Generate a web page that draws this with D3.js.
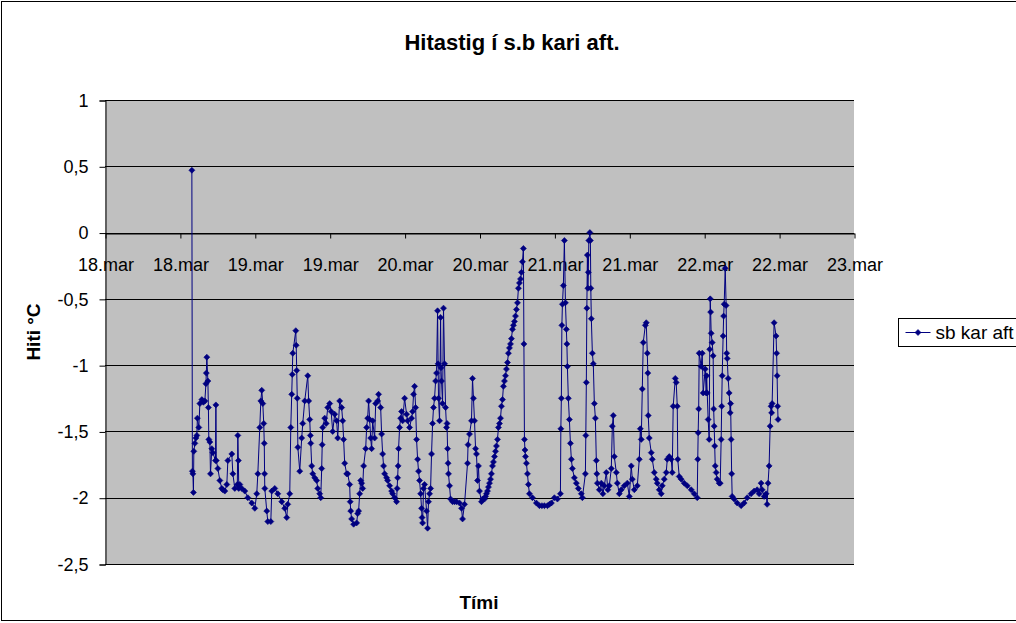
<!DOCTYPE html>
<html>
<head>
<meta charset="utf-8">
<script src="https://cdn.jsdelivr.net/npm/d3@7"></script>
<style>
  body { margin: 0; background: #ffffff; }
  svg { font-family: Arial, "Liberation Sans", sans-serif; }
</style>
</head>
<body>
<div id="vis1"></div>
<script>
// text of the chart
const TITLE = "Hitastig í s.b kari aft.";
const X_TITLE = "Tími";
const Y_TITLE = "Hiti °C";
const SERIES_NAME = "sb kar aft";

// y axis ticks (comma decimal like the original)
const Y_TICKS = [1, 0.5, 0, -0.5, -1, -1.5, -2, -2.5];

// hours after 18.mar 00:00 for each reading
const HOURS = [
  13.92, 14.00, 14.08, 14.16, 14.24, 14.40, 14.56, 14.72, 14.80, 15.04,
  15.20, 15.52, 15.76, 16.00, 16.16, 16.24, 16.32, 16.48, 16.56, 16.64,
  16.80, 16.90, 17.12, 17.28, 17.70, 17.76, 17.84, 18.08, 18.40, 18.72,
  18.88, 19.20, 19.52, 19.68, 20.32, 20.48, 20.80, 21.20, 21.28, 21.36,
  21.44, 21.60, 21.92, 22.40, 22.88, 23.52, 24.00, 24.32, 24.48, 24.80,
  24.96, 25.12, 25.28, 25.44, 25.52, 25.56, 25.60, 25.92, 26.08, 26.56,
  26.72, 27.20, 27.68, 28.32, 28.80, 29.12, 29.28, 29.60, 29.76, 29.92,
  30.00, 30.08, 30.56, 30.64, 30.72, 30.80, 30.90, 31.20, 31.52, 31.68,
  32.00, 32.48, 32.64, 32.80, 32.90, 32.96, 33.12, 33.28, 33.60, 33.92,
  34.08, 34.40, 34.56, 34.72, 34.80, 34.88, 35.20, 35.44, 35.68, 36.00,
  36.24, 36.48, 36.80, 37.12, 37.28, 37.60, 37.92, 38.08, 38.24, 38.40,
  38.72, 38.88, 39.20, 39.28, 39.36, 39.52, 39.84, 40.32, 40.48, 40.64,
  40.80, 40.96, 41.12, 41.28, 41.44, 41.76, 41.92, 42.08, 42.24, 42.40,
  42.56, 42.72, 42.88, 43.20, 43.36, 43.68, 43.84, 44.16, 44.32, 44.48,
  44.64, 44.80, 45.12, 45.28, 45.60, 45.92, 46.08, 46.40, 46.72, 46.80,
  46.88, 46.96, 47.04, 47.20, 47.36, 47.52, 47.68, 48.00, 48.32, 48.48,
  48.80, 49.12, 49.28, 49.44, 49.60, 49.76, 49.92, 50.08, 50.24, 50.40,
  50.56, 50.72, 50.80, 50.88, 51.04, 51.20, 51.52, 51.68, 51.84, 52.00,
  52.16, 52.32, 52.48, 52.64, 52.80, 52.96, 53.12, 53.28, 53.36, 53.44,
  53.60, 53.76, 53.84, 53.92, 54.08, 54.24, 54.40, 54.56, 54.72, 54.80,
  54.88, 54.96, 55.04, 55.20, 55.36, 55.68, 56.00, 56.32, 56.80, 57.12,
  57.28, 57.60, 58.08, 58.16, 58.40, 58.72, 58.88, 59.04, 59.20, 59.36,
  59.52, 59.68, 59.84, 60.00, 60.32, 60.48, 60.80, 60.96, 61.12, 61.28,
  61.44, 61.60, 61.76, 61.92, 62.08, 62.24, 62.40, 62.56, 62.72, 62.88,
  63.04, 63.20, 63.36, 63.52, 63.68, 63.84, 64.00, 64.16, 64.32, 64.48,
  64.64, 64.80, 64.96, 65.12, 65.28, 65.44, 65.60, 65.76, 65.92, 66.08,
  66.24, 66.40, 66.56, 66.72, 66.88, 67.04, 67.12, 67.20, 67.28, 67.36,
  67.52, 67.68, 67.84, 68.00, 68.48, 69.12, 69.60, 70.00, 70.40, 70.88,
  71.20, 71.52, 72.00, 72.48, 72.96, 73.04, 73.12, 73.20, 73.28, 73.44,
  73.60, 73.76, 73.92, 74.00, 74.08, 74.24, 74.40, 74.56, 74.72, 74.88,
  75.20, 75.52, 75.84, 76.32, 76.48, 76.96, 77.04, 77.12, 77.20, 77.28,
  77.36, 77.44, 77.52, 77.68, 77.76, 77.84, 77.92, 78.08, 78.24, 78.40,
  78.56, 78.72, 78.80, 78.88, 79.20, 79.52, 79.76, 80.00, 80.32, 80.56,
  80.80, 81.12, 81.28, 81.44, 81.60, 81.92, 82.08, 82.40, 82.72, 83.20,
  83.68, 84.00, 84.32, 84.48, 84.80, 85.28, 85.60, 85.76, 85.92, 86.08,
  86.24, 86.56, 86.72, 86.88, 86.96, 87.04, 87.20, 87.52, 87.68, 88.00,
  88.32, 88.48, 88.80, 89.12, 89.28, 89.60, 89.92, 90.08, 90.40, 90.72,
  90.88, 91.04, 91.36, 91.52, 91.68, 91.76, 92.00, 92.32, 92.80, 93.28,
  93.92, 94.40, 94.88, 94.96, 95.04, 95.12, 95.20, 95.52, 95.68, 95.84,
  96.16, 96.32, 96.40, 96.48, 96.64, 96.80, 96.88, 96.96, 97.04, 97.12,
  97.28, 97.44, 97.52, 97.60, 97.68, 97.76, 97.92, 98.08, 98.40, 98.56,
  98.72, 98.80, 98.88, 99.04, 99.12, 99.20, 99.36, 99.52, 99.60, 99.68,
  99.84, 100.00, 100.16, 100.24, 100.32, 100.40, 100.48, 100.80, 101.28, 101.92,
  102.40, 102.88, 103.52, 104.00, 104.48, 104.80, 105.12, 105.28, 105.60, 105.92,
  106.08, 106.24, 106.40, 106.56, 106.72, 106.80, 106.88, 107.20, 107.52, 107.60,
  107.68, 107.76, 107.84
];

// temperature readings, deg C
const TEMPS = [
  0.47, -1.80, -1.82, -1.96, -1.65, -1.59, -1.55, -1.53, -1.40, -1.47,
  -1.29, -1.26, -1.28, -1.27, -1.14, -1.06, -0.94, -1.12, -1.32, -1.56,
  -1.58, -1.82, -1.63, -1.66, -1.72, -1.30, -1.72, -1.78, -1.87, -1.93,
  -1.94, -1.95, -1.90, -1.72, -1.67, -1.82, -1.93, -1.90, -1.53, -1.72,
  -1.93, -1.90, -1.93, -1.95, -2.00, -2.04, -2.08, -1.97, -1.82, -1.47,
  -1.27, -1.19, -1.29, -1.44, -1.59, -1.82, -1.93, -2.10, -2.18, -2.18,
  -1.95, -1.93, -1.97, -2.03, -2.08, -2.15, -2.05, -1.97, -1.47, -1.22,
  -1.07, -0.91, -0.74, -0.85, -1.04, -1.25, -1.62, -1.80, -1.55, -1.44,
  -1.27, -1.08, -1.27, -1.41, -1.53, -1.59, -1.76, -1.82, -1.85, -1.87,
  -1.93, -1.97, -2.00, -1.78, -1.60, -1.47, -1.40, -1.44, -1.32, -1.29,
  -1.35, -1.50, -1.37, -1.42, -1.55, -1.27, -1.32, -1.42, -1.56, -1.74,
  -1.82, -1.82, -1.90, -2.03, -2.10, -2.16, -2.20, -2.19, -2.12, -2.10,
  -1.97, -1.87, -1.89, -1.93, -1.76, -1.63, -1.47, -1.40, -1.27, -1.41,
  -1.55, -1.63, -1.42, -1.55, -1.29, -1.27, -1.22, -1.32, -1.52, -1.67,
  -1.76, -1.82, -1.85, -1.87, -1.91, -1.95, -1.97, -2.00, -2.03, -1.93,
  -1.85, -1.76, -1.63, -1.47, -1.40, -1.35, -1.42, -1.25, -1.37, -1.42,
  -1.47, -1.40, -1.35, -1.22, -1.16, -1.32, -1.56, -1.71, -1.80, -1.87,
  -1.97, -2.08, -2.15, -2.19, -1.93, -1.90, -2.10, -2.23, -2.03, -1.97,
  -1.93, -1.67, -1.44, -1.32, -1.25, -1.12, -1.06, -0.59, -0.99, -1.25,
  -1.42, -0.64, -1.02, -1.12, -1.29, -0.57, -0.99, -1.32, -1.47, -1.44,
  -1.63, -1.74, -1.82, -1.91, -2.01, -2.03, -2.03, -2.03, -2.04, -2.08,
  -2.16, -2.05, -1.74, -1.60, -1.52, -1.42, -1.10, -1.25, -1.42, -1.63,
  -1.67, -1.87, -1.76, -1.95, -2.03, -2.01, -2.01, -1.99, -1.97, -1.95,
  -1.92, -1.89, -1.86, -1.82, -1.76, -1.73, -1.69, -1.65, -1.61, -1.56,
  -1.47, -1.44, -1.40, -1.31, -1.26, -1.16, -1.12, -1.08, -1.03, -0.98,
  -0.91, -0.87, -0.84, -0.80, -0.73, -0.70, -0.67, -0.63, -0.58, -0.53,
  -0.42, -0.38, -0.35, -0.30, -0.22, -0.12, -0.84, -1.56, -1.64, -1.69,
  -1.74, -1.82, -1.90, -1.97, -2.00, -2.04, -2.06, -2.06, -2.06, -2.06,
  -2.05, -2.04, -2.00, -2.01, -1.97, -1.48, -1.25, -0.70, -0.54, -0.40,
  -0.06, -0.53, -0.73, -0.84, -1.01, -1.25, -1.41, -1.59, -1.71, -1.78,
  -1.85, -1.89, -1.93, -1.97, -2.00, -1.82, -1.53, -1.13, -0.57, -0.17,
  -0.42, -0.30, -0.06, 0.00, -0.06, -0.42, -0.65, -0.91, -0.99, -1.29,
  -1.40, -1.72, -1.82, -1.89, -1.94, -1.89, -1.97, -1.91, -1.81, -1.94,
  -1.91, -1.78, -1.46, -1.38, -1.69, -1.81, -1.89, -1.97, -1.94, -1.91,
  -1.89, -1.99, -1.76, -1.86, -1.94, -1.91, -1.71, -1.48, -1.56, -1.18,
  -0.83, -0.70, -0.68, -0.91, -1.06, -1.38, -1.55, -1.66, -1.71, -1.81,
  -1.86, -1.89, -1.94, -1.97, -1.91, -1.86, -1.81, -1.71, -1.69, -1.71,
  -1.81, -1.31, -1.10, -1.13, -1.31, -1.71, -1.84, -1.86, -1.89, -1.91,
  -1.94, -1.97, -2.00, -1.71, -1.51, -1.33, -0.91, -1.01, -0.91, -1.21,
  -1.03, -1.21, -1.08, -1.21, -1.41, -1.56, -0.88, -0.50, -0.60, -0.76,
  -0.83, -0.93, -1.33, -1.46, -1.61, -1.76, -1.81, -1.86, -1.89, -1.89,
  -1.56, -1.31, -1.08, -0.78, -0.63, -0.54, -0.27, -0.55, -0.91, -0.95,
  -1.10, -1.21, -1.36, -1.29, -1.56, -1.82, -1.99, -2.01, -2.04, -2.06,
  -2.04, -2.00, -1.97, -1.95, -1.94, -1.97, -1.89, -1.94, -1.99, -1.97,
  -2.05, -1.89, -1.76, -1.46, -1.31, -1.36, -1.29, -0.68, -0.78, -0.91,
  -1.08, -1.31, -1.41
];

// frame
const FRAME_WIDTH = 1016;
const FRAME_HEIGHT = 623;
const PLOT = {left: 105, right: 854, top: 100, bottom: 564};
const FONT = "Arial, 'Liberation Sans', sans-serif";

const START = new Date(2008, 2, 18);
const END = new Date(2008, 2, 23);

const data = d3.range(Math.min(HOURS.length, TEMPS.length)).map(i => ({
  t: d3.timeMinute.offset(START, Math.round(HOURS[i] * 60)),
  v: TEMPS[i]
}));

const FRAME1 = d3.select("#vis1")
  .append("svg")
    .attr("width", FRAME_WIDTH)
    .attr("height", FRAME_HEIGHT);

// chart area border
FRAME1.append("rect")
  .attr("x", 1.5).attr("y", 1.5)
  .attr("width", 1100).attr("height", 619)
  .attr("fill", "#ffffff")
  .attr("stroke", "#000000");

const X_SCALE = d3.scaleTime()
  .domain([START, END])
  .range([PLOT.left, PLOT.right]);

const Y_SCALE = d3.scaleLinear()
  .domain([-2.5, 1])
  .range([PLOT.bottom, PLOT.top]);

// plot area
FRAME1.append("rect")
  .attr("x", PLOT.left).attr("y", PLOT.top)
  .attr("width", PLOT.right - PLOT.left)
  .attr("height", PLOT.bottom - PLOT.top)
  .attr("fill", "#c0c0c0");

// gridlines
FRAME1.append("g")
  .selectAll("line")
  .data(Y_TICKS)
  .enter()
  .append("line")
    .attr("x1", PLOT.left).attr("x2", PLOT.right)
    .attr("y1", d => Math.round(Y_SCALE(d)) + 0.5)
    .attr("y2", d => Math.round(Y_SCALE(d)) + 0.5)
    .attr("stroke", "#000000");

// y axis
const yAxis = FRAME1.append("g")
  .attr("transform", "translate(" + (PLOT.left + 0.5) + ",0.5)")
  .call(d3.axisLeft(Y_SCALE)
    .tickValues(Y_TICKS)
    .tickSize(6)
    .tickPadding(11)
    .tickFormat(d => String(d).replace(".", ",")));
yAxis.selectAll("text").attr("font-size", "18px").attr("font-family", FONT).attr("fill", "#000");
yAxis.selectAll("line, path").attr("stroke", "#000");

// x axis crossing at zero
const xAxis = FRAME1.append("g")
  .attr("transform", "translate(0.5," + (Math.round(Y_SCALE(0)) + 0.5) + ")")
  .call(d3.axisBottom(X_SCALE)
    .ticks(d3.timeHour.every(12))
    .tickSize(5)
    .tickSizeOuter(0)
    .tickPadding(20)
    .tickFormat(d => d3.timeFormat("%-d")(d) + ".mar"));
xAxis.selectAll("text").attr("font-size", "18px").attr("font-family", FONT).attr("fill", "#000");
xAxis.selectAll("line, path").attr("stroke", "#000");

// series line
const line = d3.line()
  .x(d => X_SCALE(d.t))
  .y(d => Y_SCALE(d.v));

FRAME1.append("path")
  .datum(data)
  .attr("d", line)
  .attr("fill", "none")
  .attr("stroke", "#000080")
  .attr("stroke-width", 1);

// diamond markers
const DIAMOND = {
  draw(ctx, size) {
    const r = Math.sqrt(size / 2);
    ctx.moveTo(0, -r); ctx.lineTo(r, 0); ctx.lineTo(0, r); ctx.lineTo(-r, 0); ctx.closePath();
  }
};
const marker = d3.symbol().type(DIAMOND).size(18);

FRAME1.append("g")
  .selectAll("path")
  .data(data)
  .enter()
  .append("path")
    .attr("transform", d => "translate(" + X_SCALE(d.t) + "," + Y_SCALE(d.v) + ")")
    .attr("d", marker)
    .attr("fill", "#000080")
    .attr("stroke", "#000080")
    .attr("stroke-width", 0.6);

// title
FRAME1.append("text")
  .attr("x", 512).attr("y", 50)
  .attr("text-anchor", "middle")
  .attr("font-size", "22px")
  .attr("font-weight", "bold")
  .text(TITLE);

// axis titles
FRAME1.append("text")
  .attr("x", 479).attr("y", 609)
  .attr("text-anchor", "middle")
  .attr("font-size", "19px")
  .attr("font-weight", "bold")
  .text(X_TITLE);

FRAME1.append("text")
  .attr("transform", "translate(40,332) rotate(-90)")
  .attr("text-anchor", "middle")
  .attr("font-size", "19px")
  .attr("font-weight", "bold")
  .text(Y_TITLE);

// legend
const LEGEND = FRAME1.append("g").attr("transform", "translate(898.5,318.5)");
LEGEND.append("rect")
  .attr("width", 200).attr("height", 28)
  .attr("fill", "#ffffff")
  .attr("stroke", "#000000");
LEGEND.append("line")
  .attr("x1", 7).attr("x2", 32)
  .attr("y1", 14).attr("y2", 14)
  .attr("stroke", "#000080");
LEGEND.append("path")
  .attr("transform", "translate(19.5,14)")
  .attr("d", marker)
  .attr("fill", "#000080")
  .attr("stroke", "#000080")
  .attr("stroke-width", 0.6);
LEGEND.append("text")
  .attr("x", 37).attr("y", 20.5)
  .attr("font-size", "19px")
  .text(SERIES_NAME);
</script>
</body>
</html>
